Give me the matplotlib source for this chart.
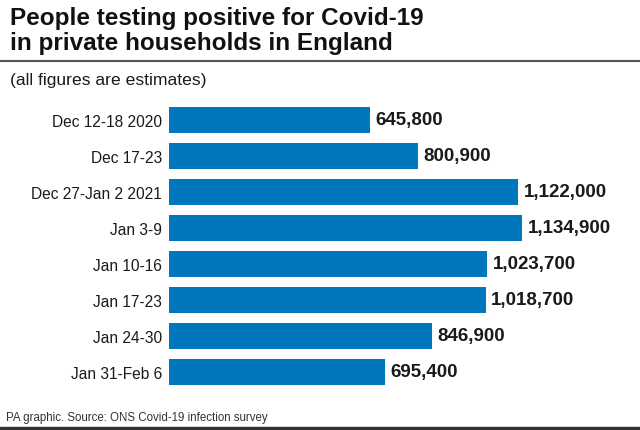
import matplotlib.pyplot as plt

# data
weeks = ["Dec 12-18 2020", "Dec 17-23", "Dec 27-Jan 2 2021", "Jan 3-9",
         "Jan 10-16", "Jan 17-23", "Jan 24-30", "Jan 31-Feb 6"]
positives = [645800, 800900, 1122000, 1134900, 1023700, 1018700, 846900, 695400]

title_lines = ["People testing positive for Covid-19", "in private households in England"]

W, H = 640, 431
plt.rcParams['font.family'] = ['Liberation Sans', 'DejaVu Sans']

fig = plt.figure(figsize=(W / 100, H / 100), dpi=100)

# bar area: x from 169 px to right edge, y 103..391 px
ax = fig.add_axes([169 / W, (H - 391) / H, 1 - 169 / W, 288 / H])
ypos = list(range(len(weeks)))
ax.barh(ypos, positives, height=0.72, color="#0077bd")
ax.set_xlim(0, 1515000)
ax.set_ylim(len(weeks) - 0.5, -0.5)
ax.set_yticks(ypos)
ax.set_yticklabels(weeks, fontsize=11.2, color="#1a1a1a")
ax.tick_params(axis="y", length=0, pad=5)
ax.set_xticks([])
for s in ax.spines.values():
    s.set_visible(False)

for y, v in zip(ypos, positives):
    ax.annotate(f"{v:,}", (v, y), xytext=(4, 0), textcoords="offset points",
                va="center", ha="left", fontsize=13.5, fontweight="bold",
                color="#1a1a1a")

# title (two lines, baselines at 25 and 50 px), rule, subtitle
for i, line in enumerate(title_lines):
    fig.text(10 / W, 1 - (25 + 25 * i) / H, line, fontsize=17.5, fontweight="bold",
             va="baseline", ha="left", color="#111111")
fig.add_artist(plt.Line2D([0, 1], [1 - 62 / H, 1 - 62 / H], color="#555555", lw=1.5))
fig.text(10 / W, 1 - 81 / H, "(all figures are estimates)", fontsize=12.6,
         va="center", ha="left", color="#1a1a1a")

# footer
fig.text(6 / W, 1 - 418 / H, "PA graphic. Source: ONS Covid-19 infection survey",
         fontsize=8.3, va="center", ha="left", color="#333333")
fig.add_artist(plt.Rectangle((0, 0), 1, 3 / H, color="#333333", transform=fig.transFigure))

fig.savefig("out.png", dpi=100)
